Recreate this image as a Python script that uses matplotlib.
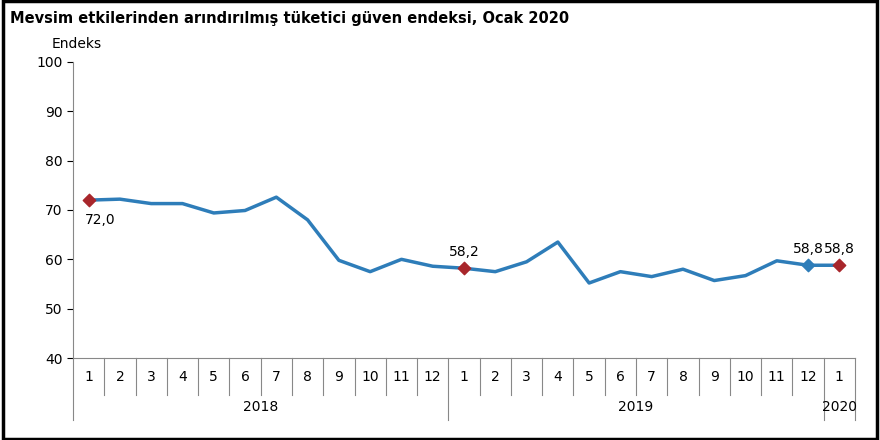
import matplotlib
matplotlib.use("Agg")
import matplotlib.pyplot as plt
import matplotlib.transforms as mtrans
from matplotlib.patches import Rectangle

months = [str(m) for m in range(1, 13)] * 2 + ["1"]
years = ["2018", "2019", "2020"]
year_counts = [12, 12, 1]
values = [72.0, 72.2, 71.3, 71.3, 69.4, 69.9, 72.6, 68.0, 59.8, 57.5, 60.0, 58.6,
          58.2, 57.5, 59.5, 63.5, 55.2, 57.5, 56.5, 58.0, 55.7, 56.7, 59.7, 58.8,
          58.8]
red_idx = [0, 12, 24]
blue_idx = [23]
labels = {0: "72,0", 12: "58,2", 23: "58,8", 24: "58,8"}

fig = plt.figure(figsize=(8.8, 4.4), dpi=100)
fig.patches.append(Rectangle((0.003, 0.003), 0.994, 0.994, transform=fig.transFigure,
                             fill=False, lw=2.5, ec="black"))
ax = fig.add_axes([73/880, 1-358/440, (855-73)/880, (358-62)/440])
x = list(range(len(values)))
line_c = "#2E7DB9"
ax.plot(x, values, color=line_c, lw=2.5, zorder=2)
ax.scatter([x[i] for i in red_idx], [values[i] for i in red_idx], marker="D", s=40,
           color="#A8262B", zorder=3)
ax.scatter([x[i] for i in blue_idx], [values[i] for i in blue_idx], marker="D", s=40,
           color=line_c, zorder=3)
for i, t in labels.items():
    dy = -14 if i == 0 else 12
    ax.annotate(t, (x[i], values[i]), xytext=(0 if i else 8, dy), textcoords="offset points",
                ha="center", va="center", fontsize=10)
ax.set_xlim(-0.5, len(values) - 0.5)
ax.set_ylim(40, 100)
ax.set_yticks(range(40, 101, 10))
ax.tick_params(axis="y", labelsize=10, length=4)
ax.set_xticks([])
for s in ["top", "right"]:
    ax.spines[s].set_visible(False)
ax.spines["left"].set_color("#888888")
ax.spines["bottom"].set_color("#888888")
tr = mtrans.blended_transform_factory(ax.transData, ax.transAxes)
for i, m in enumerate(months):
    ax.text(i, -0.065, m, transform=tr, ha="center", va="center", fontsize=10)
b = -0.5
boundaries = [b]
for c in year_counts:
    b += c
    boundaries.append(b)
for k in range(len(values) + 1):
    pos = k - 0.5
    ybot = -0.21 if pos in boundaries else -0.125
    ax.plot([pos, pos], [0, ybot], transform=tr, color="#888888", lw=0.8, clip_on=False)
for yname, lo, hi in zip(years, boundaries[:-1], boundaries[1:]):
    ax.text((lo + hi) / 2, -0.165, yname, transform=tr, ha="center", va="center", fontsize=10)
fig.text(10/880, 1-18/440, "Mevsim etkilerinden arındırılmış tüketici güven endeksi, Ocak 2020",
         fontsize=10.5, fontweight="bold", va="center")
fig.text(52/880, 1-44/440, "Endeks", fontsize=10, va="center")
fig.savefig("out.png", dpi=100)
